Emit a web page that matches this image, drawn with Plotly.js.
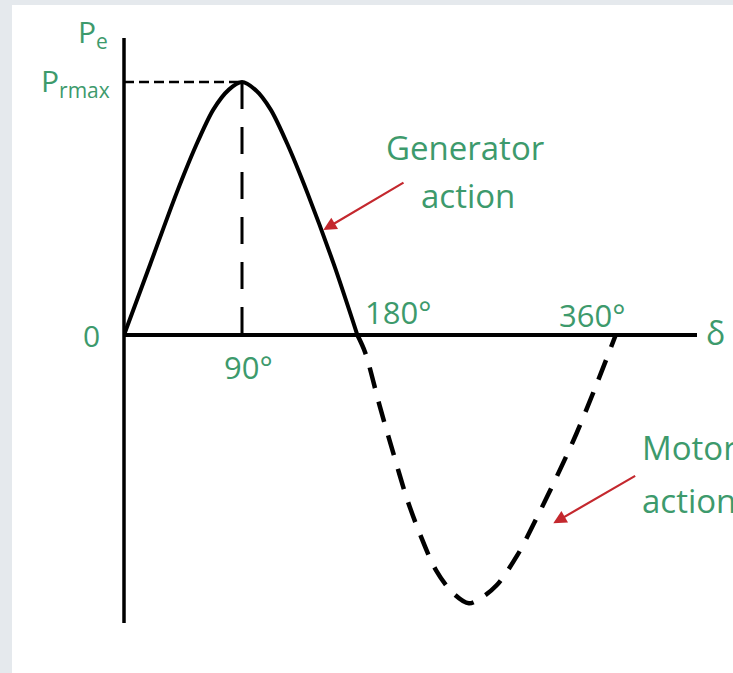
<!DOCTYPE html>
<html>
<head>
<meta charset="utf-8">
<script src="https://cdn.plot.ly/plotly-3.0.1.min.js"></script>
<style>
  html, body { margin: 0; padding: 0; background: #e5e9ed; width: 733px; height: 673px; overflow: hidden; }
  #chart { position: absolute; left: 12px; top: 5px; width: 721px; height: 668px; background: #ffffff; }
</style>
</head>
<body>
<div id="chart"></div>
<script>
// Generator action (solid) – load angle in degrees, power in per-unit of Prmax
const genDelta = [0, 20, 40, 55, 68, 80, 90, 100, 112, 125, 140, 160, 178];
const genPower = [0, 0.28, 0.56, 0.75, 0.89, 0.97, 1.0, 0.97, 0.89, 0.75, 0.56, 0.28, 0];

// Motor action (dashed)
const motDelta = [178, 184, 195, 205, 216, 226, 238, 251, 263, 272, 284, 300, 315, 330, 345, 360, 375];
const motPower = [0, -0.07, -0.28, -0.46, -0.65, -0.79, -0.93, -1.02, -1.06, -1.04, -0.99, -0.87, -0.72, -0.56, -0.39, -0.20, 0];

// Peak reference (Prmax at 90°)
const peakDelta = 90;
const peakPower = 1.0;

// Tick labels
const angleLabels = ["90°", "180°", "360°"];
const angleLabelPos = [95, 209, 357];
const angleLabelLevel = [-0.125, 0.09, 0.08];

const GREEN = "#3d9a6c";
const RED = "#c4282e";
const FONT = "Open Sans";

const traces = [
  { x: [0, peakDelta], y: [peakPower, peakPower], mode: "lines",
    line: { color: "#000", width: 2.5, dash: "10px,5px" } },
  { x: [peakDelta, peakDelta], y: [peakPower, 0], mode: "lines",
    line: { color: "#000", width: 3, dash: "27px,18px" } },
  { x: genDelta, y: genPower, mode: "lines",
    line: { color: "#000", width: 4, shape: "spline", smoothing: 0.8 } },
  { x: motDelta, y: motPower, mode: "lines",
    line: { color: "#000", width: 4.5, shape: "spline", smoothing: 0.9, dash: "21px,14px" } }
];

const ann = [];
function txt(o) {
  ann.push(Object.assign({ showarrow: false, font: { family: FONT, size: 30, color: GREEN } }, o));
}
for (let i = 0; i < angleLabels.length; i++) {
  txt({ text: angleLabels[i], x: angleLabelPos[i], y: angleLabelLevel[i], xref: "x", yref: "y", xanchor: "center", yanchor: "middle",
        font: { family: FONT, size: 31, color: GREEN } });
}
txt({ text: "0", x: -0.039, xref: "paper", y: 0, yref: "y", xanchor: "right", yanchor: "middle" });
txt({ text: "P<sub>rmax</sub>", x: -0.021, xref: "paper", y: peakPower, yref: "y", xanchor: "right", yanchor: "middle" });
txt({ text: "P<sub>e</sub>", x: -0.024, xref: "paper", y: 1.008, yref: "paper", xanchor: "right", yanchor: "middle" });
txt({ text: "δ", x: 1.033, xref: "paper", y: 0.01, yref: "y", xanchor: "center", yanchor: "middle", font: { family: FONT, size: 32, color: GREEN } });
txt({ text: "Generator", x: 260, y: 0.74, xref: "x", yref: "y", xanchor: "center", yanchor: "middle", font: { family: FONT, size: 33, color: GREEN } });
txt({ text: "action", x: 262, y: 0.55, xref: "x", yref: "y", xanchor: "center", yanchor: "middle", font: { family: FONT, size: 33, color: GREEN } });
txt({ text: "Motor", x: 393.5, y: -0.443, xref: "x", yref: "y", xanchor: "left", yanchor: "middle", font: { family: FONT, size: 33, color: GREEN } });
txt({ text: "action", x: 393.5, y: -0.652, xref: "x", yref: "y", xanchor: "left", yanchor: "middle", font: { family: FONT, size: 33, color: GREEN } });

// red pointer arrows
ann.push({ x: 152, y: 0.415, ax: 214.3, ay: 0.606, xref: "x", yref: "y", axref: "x", ayref: "y",
  text: "", showarrow: true, arrowhead: 2, arrowsize: 1.2, arrowwidth: 2.2, arrowcolor: RED });
ann.push({ x: 327.4, y: -0.744, ax: 391, ay: -0.553, xref: "x", yref: "y", axref: "x", ayref: "y",
  text: "", showarrow: true, arrowhead: 2, arrowsize: 1.2, arrowwidth: 2.2, arrowcolor: RED });

const layout = {
  width: 721, height: 668,
  margin: { l: 112, r: 36, t: 33, b: 50, pad: 0 },
  paper_bgcolor: "#ffffff", plot_bgcolor: "#ffffff",
  showlegend: false, hovermode: false,
  xaxis: { range: [0, 437], visible: false, showgrid: false, zeroline: false, fixedrange: true },
  yaxis: { range: [-1.138, 1.174], visible: false, showgrid: false, zeroline: false, fixedrange: true },
  shapes: [
    { type: "line", xref: "paper", yref: "paper", x0: 0, x1: 0, y0: 0, y1: 1, line: { color: "#000", width: 3.5 } },
    { type: "line", xref: "paper", yref: "y", x0: 0, x1: 1, y0: 0, y1: 0, line: { color: "#000", width: 4 } }
  ],
  annotations: ann
};

Plotly.newPlot("chart", traces, layout, { staticPlot: true, displayModeBar: false });
</script>
</body>
</html>
